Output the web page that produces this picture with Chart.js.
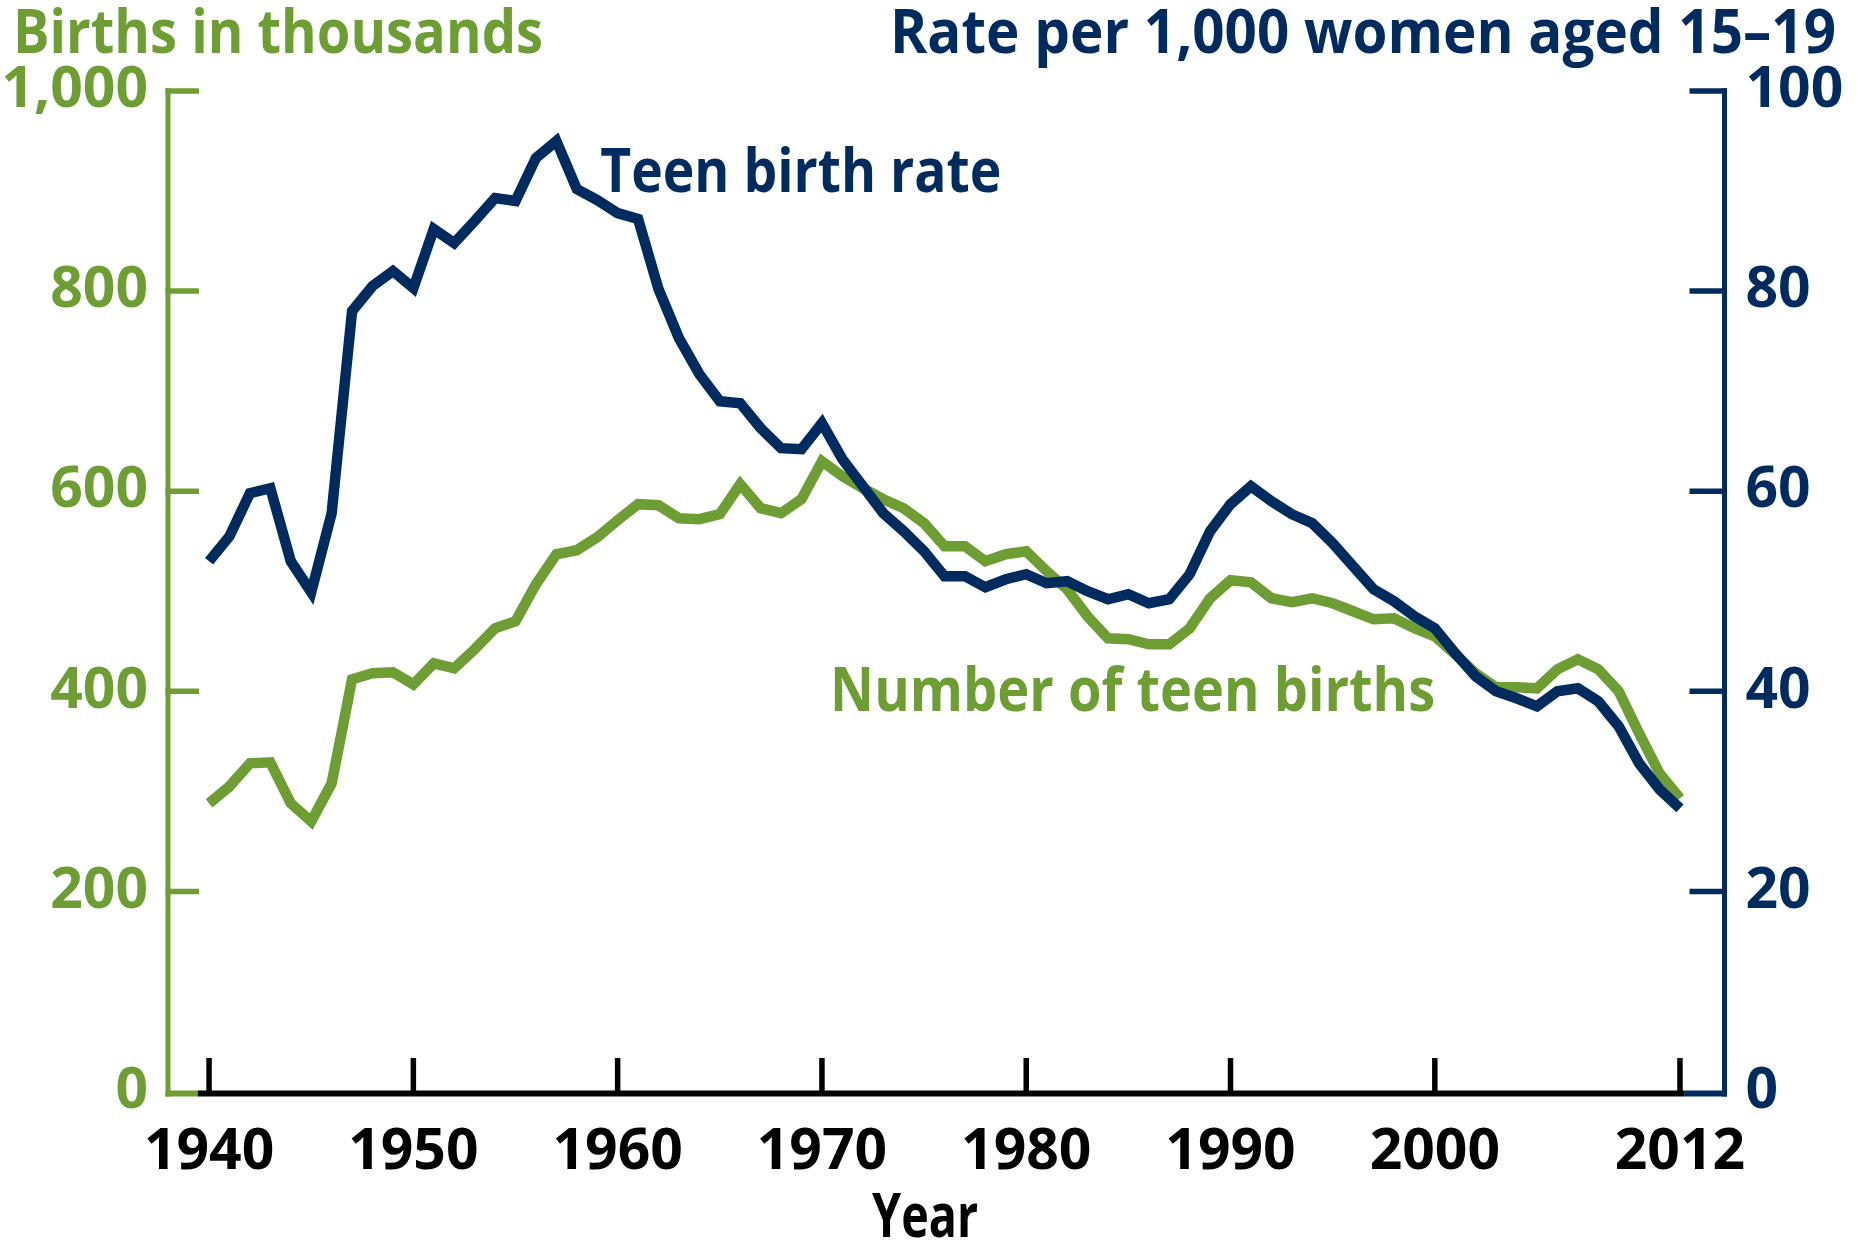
<!DOCTYPE html>
<html>
<head>
<meta charset="utf-8">
<title>Teen births and teen birth rate, 1940-2012</title>
<script src="https://cdn.jsdelivr.net/npm/chart.js@4.4.1/dist/chart.umd.min.js"></script>
<style>
  html, body { margin: 0; padding: 0; background: #fff; }
  canvas { display: block; }
</style>
</head>
<body>
<canvas id="teenChart" width="1858" height="1243"></canvas>
<script>
// years 1940..2012
const years = [
  1940, 1941, 1942, 1943, 1944, 1945, 1946, 1947, 1948, 1949,
  1950, 1951, 1952, 1953, 1954, 1955, 1956, 1957, 1958, 1959,
  1960, 1961, 1962, 1963, 1964, 1965, 1966, 1967, 1968, 1969,
  1970, 1971, 1972, 1973, 1974, 1975, 1976, 1977, 1978, 1979,
  1980, 1981, 1982, 1983, 1984, 1985, 1986, 1987, 1988, 1989,
  1990, 1991, 1992, 1993, 1994, 1995, 1996, 1997, 1998, 1999,
  2000, 2001, 2002, 2003, 2004, 2005, 2006, 2007, 2008, 2009,
  2010, 2011, 2012
];

// teen birth rate, per 1,000 women aged 15-19 (right axis)
const birthRate = [
  53.0, 55.5, 59.8, 60.3, 53.0, 49.9, 57.8, 78.0, 80.5, 82.0,
  80.3, 86.2, 84.8, 87.0, 89.3, 89.0, 93.3, 95.0, 90.2, 89.1,
  87.8, 87.2, 80.2, 75.3, 71.7, 69.0, 68.8, 66.3, 64.3, 64.2,
  66.8, 63.2, 60.5, 57.8, 56.0, 54.0, 51.5, 51.5, 50.4, 51.2,
  51.7, 50.8, 51.0, 50.0, 49.2, 49.7, 48.8, 49.2, 51.7, 56.0,
  58.7, 60.5, 59.0, 57.7, 56.8, 54.8, 52.5, 50.2, 49.0, 47.5,
  46.3, 43.8, 41.5, 40.0, 39.3, 38.5, 40.0, 40.3, 39.0, 36.5,
  32.8, 30.2, 28.3
];

// number of teen births, thousands (left axis)
const teenBirths = [
  288, 305, 328, 329, 288, 270, 308, 412, 418, 419,
  407, 428, 423, 442, 463, 470, 507, 537, 541, 554,
  571, 587, 586, 573, 572, 577, 607, 583, 578, 592,
  630, 615, 603, 592, 583, 568, 545, 545, 530, 537,
  540, 520, 502, 475, 453, 452, 447, 447, 463, 493,
  511, 509, 493, 489, 493, 488, 480, 472, 473, 463,
  455, 437, 418, 404, 404, 403, 422, 432, 422, 400,
  358, 318, 293
];

const yearTicks = [1940, 1950, 1960, 1970, 1980, 1990, 2000, 2012];
const birthTicks = [0, 200, 400, 600, 800, 1000];
const rateTicks = [0, 20, 40, 60, 80, 100];

const GREEN = '#6E9D33';
const NAVY = '#002B5E';
const FONT = '"Open Sans", "Noto Sans", sans-serif';

const tickFont = { family: FONT, size: 57, weight: '700' };

function pinScale(size, horizontal) {
  return (scale) => {
    if (horizontal) scale.height = size; else scale.width = size;
    scale.paddingLeft = 0;
    scale.paddingRight = 0;
    scale.paddingTop = 0;
    scale.paddingBottom = 0;
  };
}

function drawLabel(ctx, text, x, y, color, align, maxWidth) {
  ctx.save();
  ctx.font = '700 60px ' + FONT;
  ctx.fillStyle = color;
  ctx.textAlign = align;
  ctx.textBaseline = 'alphabetic';
  ctx.fillText(text, x, y, maxWidth);
  ctx.restore();
}

function line(ctx, x1, y1, x2, y2, color, width) {
  ctx.save();
  ctx.strokeStyle = color;
  ctx.lineWidth = width;
  ctx.lineCap = 'butt';
  ctx.beginPath();
  ctx.moveTo(x1, y1);
  ctx.lineTo(x2, y2);
  ctx.stroke();
  ctx.restore();
}

// axes with inward tick marks, plus the titles and series labels
const axesPlugin = {
  id: 'axesPlugin',
  afterDraw(chart) {
    const ctx = chart.ctx;
    const area = chart.chartArea;
    const x = chart.scales.x;
    const y = chart.scales.y;
    const y1 = chart.scales.y1;
    const axisY = area.bottom + 2;

    // bottom axis: green stub, black run, navy stub
    const xStart = x.getPixelForValue(1939.45);
    const xEnd = x.getPixelForValue(2012.2);
    line(ctx, area.left - 2.5, axisY, xStart, axisY, GREEN, 6);
    line(ctx, xStart, axisY, xEnd, axisY, '#000', 6);
    line(ctx, xEnd, axisY, area.right + 2.5, axisY, NAVY, 6);

    // left axis
    const yTop = y.getPixelForValue(1000);
    line(ctx, area.left, yTop - 2.8, area.left, axisY + 3, GREEN, 5);
    y.ticks.forEach(t => {
      if (t.value === 0) return;
      const py = y.getPixelForValue(t.value);
      line(ctx, area.left - 2.5, py, area.left + 31, py, GREEN, 5.5);
    });

    // right axis
    const rTop = y1.getPixelForValue(100);
    line(ctx, area.right, rTop - 2.8, area.right, axisY + 3, NAVY, 5);
    y1.ticks.forEach(t => {
      if (t.value === 0) return;
      const py = y1.getPixelForValue(t.value);
      line(ctx, area.right - 35, py, area.right + 2.5, py, NAVY, 5.5);
    });

    // year ticks
    x.ticks.forEach(t => {
      const px = x.getPixelForValue(t.value);
      line(ctx, px, axisY, px, axisY - 35.5, '#000', 5.5);
    });

    // titles
    drawLabel(ctx, 'Births in thousands', 13, 53, GREEN, 'left', 530);
    drawLabel(ctx, 'Rate per 1,000 women aged 15–19', 1836, 53, NAVY, 'right', 946);

    // series labels
    drawLabel(ctx, 'Teen birth rate', x.getPixelForValue(1959.15), y1.getPixelForValue(89.95), NAVY, 'left', 401);
    drawLabel(ctx, 'Number of teen births', x.getPixelForValue(1970.4), y.getPixelForValue(380.5), GREEN, 'left', 605);

    // x axis title
    drawLabel(ctx, 'Year', x.getPixelForValue(1975.05), chart.height - 6, '#000', 'center', 106);
  }
};

new Chart(document.getElementById('teenChart'), {
  type: 'line',
  data: {
    datasets: [
      {
        label: 'Teen birth rate',
        data: years.map((yr, i) => ({ x: yr, y: birthRate[i] })),
        yAxisID: 'y1',
        borderColor: NAVY,
        borderWidth: 10.5,
        borderJoinStyle: 'miter',
        borderCapStyle: 'butt',
        pointRadius: 0,
        tension: 0,
        fill: false
      },
      {
        label: 'Number of teen births',
        data: years.map((yr, i) => ({ x: yr, y: teenBirths[i] })),
        yAxisID: 'y',
        borderColor: GREEN,
        borderWidth: 10.5,
        borderJoinStyle: 'miter',
        borderCapStyle: 'butt',
        pointRadius: 0,
        tension: 0,
        fill: false
      }
    ]
  },
  options: {
    responsive: false,
    devicePixelRatio: 1,
    animation: false,
    layout: { padding: { top: 91, left: 0, right: 0, bottom: 0 } },
    plugins: {
      legend: { display: false },
      tooltip: { enabled: false },
      title: { display: false }
    },
    scales: {
      x: {
        type: 'linear',
        position: 'bottom',
        min: 1937.99,
        max: 2014.18,
        afterBuildTicks: (scale) => { scale.ticks = yearTicks.map(v => ({ value: v })); },
        afterFit: pinScale(151.5, true),
        grid: { display: false, drawTicks: false },
        border: { display: false },
        ticks: {
          color: '#000',
          font: tickFont,
          padding: 27,
          maxRotation: 0,
          autoSkip: false,
          callback: (v) => String(v)
        }
      },
      y: {
        type: 'linear',
        position: 'left',
        min: 0,
        max: 1000,
        afterBuildTicks: (scale) => { scale.ticks = birthTicks.map(v => ({ value: v })); },
        afterFit: pinScale(168, false),
        grid: { display: false, drawTicks: false },
        border: { display: false },
        ticks: {
          color: GREEN,
          font: tickFont,
          padding: 20,
          callback: (v) => v.toLocaleString('en-US')
        }
      },
      y1: {
        type: 'linear',
        position: 'right',
        min: 0,
        max: 100,
        afterBuildTicks: (scale) => { scale.ticks = rateTicks.map(v => ({ value: v })); },
        afterFit: pinScale(133.5, false),
        grid: { display: false, drawTicks: false },
        border: { display: false },
        ticks: {
          color: NAVY,
          font: tickFont,
          padding: 21,
          callback: (v) => String(v)
        }
      }
    }
  },
  plugins: [axesPlugin]
});
</script>
</body>
</html>
